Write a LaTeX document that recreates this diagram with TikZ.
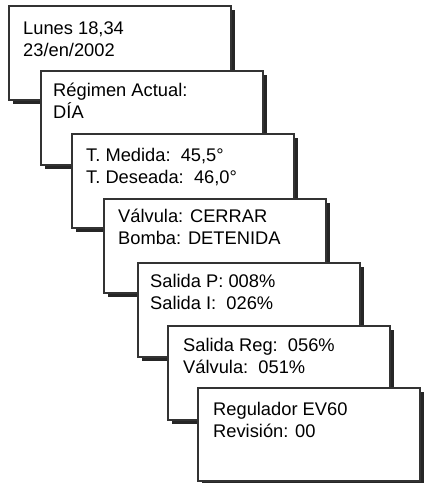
\documentclass[tikz,border=0pt]{standalone}
\usepackage{fontspec}
\setmainfont{Liberation Sans}
\usetikzlibrary{shadows}

\tikzset{
  pantalla/.style={draw=black!80, line width=1.8pt, fill=white, anchor=north west,
    inner sep=0pt, minimum width=222pt, minimum height=94pt,
    drop shadow={shadow xshift=4.5pt, shadow yshift=-4.5pt, fill=black!85, opacity=1}},
  texto/.style={anchor=base west, inner sep=0pt, align=left,
    font=\fontsize{18.3}{22}\selectfont}
}

\begin{document}
\begin{tikzpicture}[x=1pt,y=-1pt]
				\useasboundingbox (0,0) rectangle (428,483);
				\node [pantalla] (p1) at (8,5) {};
				\node [texto] (t1) at ([shift={(15,51)}]p1.north west) {Lunes 18,34\\23/en/2002};
				\node [pantalla] (p2) at (40,70) {};
				\node [texto] (t2) at ([shift={(13,48)}]p2.north west) {Régimen Actual:\\DÍA};
				\node [pantalla] (p3) at (71,133) {};
				\node [texto] (t3) at ([shift={(15,50)}]p3.north west) {T. Medida:\ \ 45,5°\\T. Deseada:\ \ 46,0°};
				\node [pantalla] (p4) at (103,198) {};
				\node [texto] (t4) at ([shift={(15,46)}]p4.north west) {Válvula: CERRAR\\Bomba: DETENIDA};
				\node [pantalla] (p5) at (137,262) {};
				\node [texto] (t5) at ([shift={(13,47)}]p5.north west) {Salida P: 008\%\\Salida I:\ \ 026\%};
				\node [pantalla] (p6) at (167,325) {};
				\node [texto] (t6) at ([shift={(16,48)}]p6.north west) {Salida Reg:\ \ 056\%\\Válvula:\ \ 051\%};
				\node [pantalla, minimum height=93pt] (p7) at (197,387) {};
				\node [texto] (t7) at ([shift={(16,50)}]p7.north west) {Regulador EV60\\Revisión: 00};
			\end{tikzpicture}
\end{document}
